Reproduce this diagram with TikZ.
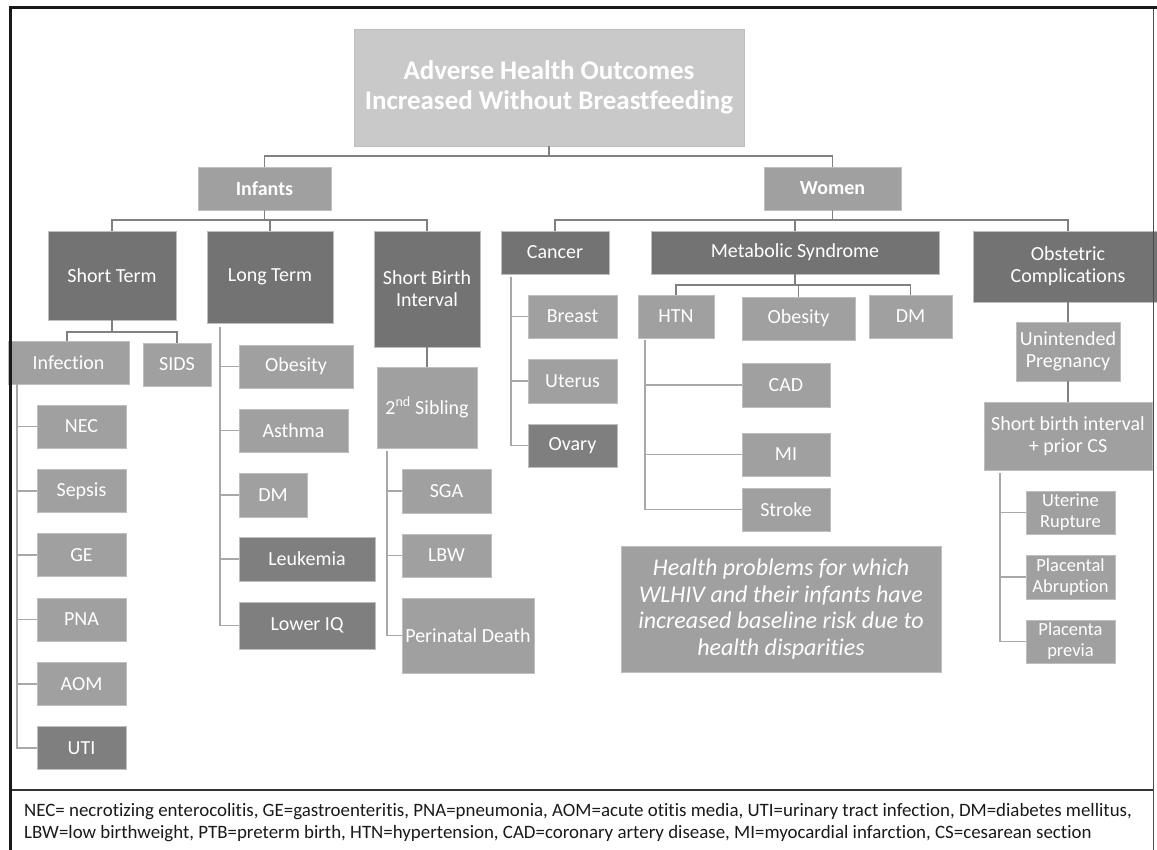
\documentclass[tikz,border=0pt]{standalone}
\usepackage{fontspec}
\setmainfont{Carlito}[Ligatures=NoCommon]
\definecolor{titlefill}{HTML}{C9C9C9}
\definecolor{grpfill}{HTML}{A0A0A0}
\definecolor{catfill}{HTML}{737373}
\definecolor{leaffill}{HTML}{A0A0A0}
\definecolor{dleaffill}{HTML}{7F7F7F}
\definecolor{connc}{HTML}{808080}
\definecolor{leafc}{HTML}{A8A8A8}
\definecolor{boxedge}{HTML}{BEBEBE}
\definecolor{legtext}{HTML}{1A1A1A}
\tikzset{
  box/.style={rectangle, inner sep=0pt, outer sep=0pt, align=center, text=white,
    draw=boxedge, line width=0.6pt, font=\fontsize{20}{22}\selectfont},
  titlebox/.style={box, fill=titlefill, font=\bfseries\fontsize{27}{30}\selectfont},
  grpbox/.style={box, fill=grpfill, font=\bfseries\fontsize{20}{22}\selectfont},
  catbox/.style={box, fill=catfill},
  leafbox/.style={box, fill=leaffill},
  dleafbox/.style={box, fill=dleaffill},
  smallleaf/.style={box, fill=leaffill, font=\fontsize{18.5}{21}\selectfont},
  notebox/.style={box, fill=leaffill, font=\itshape\fontsize{24}{26.5}\selectfont},
  conn/.style={draw=connc, line width=1.6pt},
  leafline/.style={draw=leafc, line width=1.6pt},
}
\begin{document}
\begin{tikzpicture}[x=1pt,y=-1pt]
\useasboundingbox (0,0) rectangle (1157,850);
\fill[white] (0,0) rectangle (1157,850);

% ---- top levels
\node[titlebox, minimum width=390, minimum height=117] (title) at (549,87.5)
  {Adverse Health Outcomes\\Increased Without Breastfeeding};
\node[grpbox, minimum width=133, minimum height=43] (inf) at (264.5,188.5) {Infants};
\node[grpbox, minimum width=137, minimum height=43] (wom) at (832.5,188.5) {Women};

% ---- infant categories
\node[catbox, minimum width=128, minimum height=89] (st) at (112,275.5) {Short Term};
\node[catbox, minimum width=126, minimum height=92] (lt) at (270,277) {Long Term};
\node[catbox, minimum width=106, minimum height=116] (sbi) at (427,289) {Short Birth\\Interval};

% ---- women categories
\node[catbox, minimum width=108, minimum height=43] (can) at (555,252.5) {Cancer};
\node[catbox, minimum width=288, minimum height=43] (met) at (795,252.5) {Metabolic Syndrome};
\node[catbox, minimum width=190, minimum height=71] (obs) at (1068,266.5) {Obstetric\\Complications};

% ---- short term
\node[leafbox, minimum width=121, minimum height=43] (infc) at (68.5,362.5) {Infection};
\node[leafbox, minimum width=68, minimum height=43] (sids) at (177,364.5) {SIDS};
\node[leafbox, minimum width=89, minimum height=43] (nec) at (81.5,426.5) {NEC};
\node[leafbox, minimum width=89, minimum height=43] (sep) at (81.5,490.8) {Sepsis};
\node[leafbox, minimum width=89, minimum height=43] (ge) at (81.5,555.1) {GE};
\node[leafbox, minimum width=89, minimum height=43] (pna) at (81.5,619.4) {PNA};
\node[leafbox, minimum width=89, minimum height=43] (aom) at (81.5,683.7) {AOM};
\node[dleafbox, minimum width=89, minimum height=43] (uti) at (81.5,748) {UTI};

% ---- long term
\node[leafbox, minimum width=114, minimum height=43] (obi) at (296,366.5) {Obesity};
\node[leafbox, minimum width=109, minimum height=43] (ast) at (293.5,430.5) {Asthma};
\node[leafbox, minimum width=68, minimum height=44] (dmi) at (273,495) {DM};
\node[dleafbox, minimum width=136, minimum height=44] (leu) at (307,559) {Leukemia};
\node[dleafbox, minimum width=136, minimum height=47] (liq) at (307,625.5) {Lower IQ};

% ---- short birth interval
\node[leafbox, minimum width=100, minimum height=81] (sib) at (427,407.5) {2\textsuperscript{nd} Sibling};
\node[leafbox, minimum width=89, minimum height=44] (sga) at (446.5,491) {SGA};
\node[leafbox, minimum width=89, minimum height=43] (lbw) at (446.5,555.5) {LBW};
\node[leafbox, minimum width=132, minimum height=75] (pd) at (468,635.5) {Perinatal Death};

% ---- cancer
\node[leafbox, minimum width=89, minimum height=43] (bre) at (572.5,316.5) {Breast};
\node[leafbox, minimum width=89, minimum height=44] (ute) at (572.5,381) {Uterus};
\node[dleafbox, minimum width=89, minimum height=43] (ova) at (572.5,445.5) {Ovary};

% ---- metabolic
\node[leafbox, minimum width=76, minimum height=43] (htn) at (676,316.5) {HTN};
\node[leafbox, minimum width=113, minimum height=43] (obw) at (798.5,318.5) {Obesity};
\node[leafbox, minimum width=83, minimum height=43] (dmw) at (910.5,316.5) {DM};
\node[leafbox, minimum width=88, minimum height=44] (cad) at (786,385) {CAD};
\node[leafbox, minimum width=88, minimum height=43] (mi) at (786,454.5) {MI};
\node[leafbox, minimum width=88, minimum height=43] (str) at (786,509.5) {Stroke};

% ---- note
\node[notebox, minimum width=320, minimum height=126] (note) at (781,609)
  {Health problems for which\\WLHIV and their infants have\\increased baseline risk due to\\health disparities};

% ---- obstetric
\node[leafbox, minimum width=104, minimum height=59] (unp) at (1068,351.5) {Unintended\\Pregnancy};
\node[leafbox, minimum width=168, minimum height=68] (sbc) at (1068,436) {Short birth interval\\+ prior CS};
\node[smallleaf, minimum width=89, minimum height=43] (ur) at (1070.5,512.5) {Uterine\\Rupture};
\node[smallleaf, minimum width=89, minimum height=44] (pa) at (1070.5,577) {Placental\\Abruption};
\node[smallleaf, minimum width=89, minimum height=43] (pp) at (1070.5,641.5) {Placenta\\previa};

% ---- connectors, top
\coordinate (j1) at (549,156);
\draw[conn] (title.south) -- (j1);
\draw[conn] (inf.north) |- (j1) -| (wom.north);

\coordinate (j2) at (264.5,220);
\draw[conn] (inf.south) -- (j2);
\draw[conn] (st.north) |- (j2) -| (sbi.north);
\draw[conn] (lt.north) -- (lt.north |- j2);

\coordinate (j3) at (832.5,220);
\draw[conn] (wom.south) -- (j3);
\draw[conn] (can.north) |- (j3) -| (obs.north);
\draw[conn] (met.north) -- (met.north |- j3);

% short term split
\coordinate (j5) at (112,332);
\coordinate (v0) at (67,0);
\draw[conn] (st.south) -- (j5);
\draw[conn] (infc.north -| v0) |- (j5) -| (sids.north);

% metabolic split
\coordinate (j4) at (795,285);
\draw[conn] (met.south) -- (j4);
\draw[conn] (htn.north) |- (j4) -| (dmw.north);
\draw[conn] (obw.north) -- (obw.north |- j4);

% chains
\draw[conn] (sbi.south) -- (sib.north);
\draw[conn] (obs.south) -- (unp.north);
\draw[conn] (unp.south) -- (sbc.north);

% ---- leaf brackets
\coordinate (v1) at (17,0);
\draw[leafline] (infc.south -| v1) |- (uti.west);
\foreach \n in {nec,sep,ge,pna,aom} \draw[leafline] (v1 |- \n.west) -- (\n.west);

\coordinate (v2) at (220,0);
\draw[leafline] ([yshift=-4]lt.south -| v2) |- (liq.west);
\foreach \n in {obi,ast,dmi,leu} \draw[leafline] (v2 |- \n.west) -- (\n.west);

\coordinate (v3) at (387,0);
\draw[leafline] ([yshift=-3]sib.south -| v3) |- (pd.west);
\foreach \n in {sga,lbw} \draw[leafline] (v3 |- \n.west) -- (\n.west);

\coordinate (v4) at (511,0);
\draw[leafline] ([yshift=-3]can.south -| v4) |- (ova.west);
\foreach \n in {bre,ute} \draw[leafline] (v4 |- \n.west) -- (\n.west);

\coordinate (v5) at (645,0);
\draw[leafline] ([yshift=-2]htn.south -| v5) |- (str.west);
\foreach \n in {cad,mi} \draw[leafline] (v5 |- \n.west) -- (\n.west);

\coordinate (v6) at (1000,0);
\draw[leafline] ([yshift=-3]sbc.south -| v6) |- (pp.west);
\foreach \n in {ur,pa} \draw[leafline] (v6 |- \n.west) -- (\n.west);

% ---- legend
\node[anchor=west, inner sep=0pt, text=legtext, align=left, font=\fontsize{18.9}{22}\selectfont] (leg) at (24,823)
  {NEC= necrotizing enterocolitis, GE=gastroenteritis, PNA=pneumonia, AOM=acute otitis media, UTI=urinary tract infection, DM=diabetes mellitus,\\
   LBW=low birthweight, PTB=preterm birth, HTN=hypertension, CAD=coronary artery disease, MI=myocardial infarction, CS=cesarean section};

% ---- frame
\draw[line width=1pt, black!70] (1153,7.5) -- (1153,850);
\draw[line width=1.4pt, black!80] (10,790) -- (1153,790);
\draw[line width=3pt, black!90] (10,850) -- (10,7.5) -- (1157,7.5);
\end{tikzpicture}
\end{document}
